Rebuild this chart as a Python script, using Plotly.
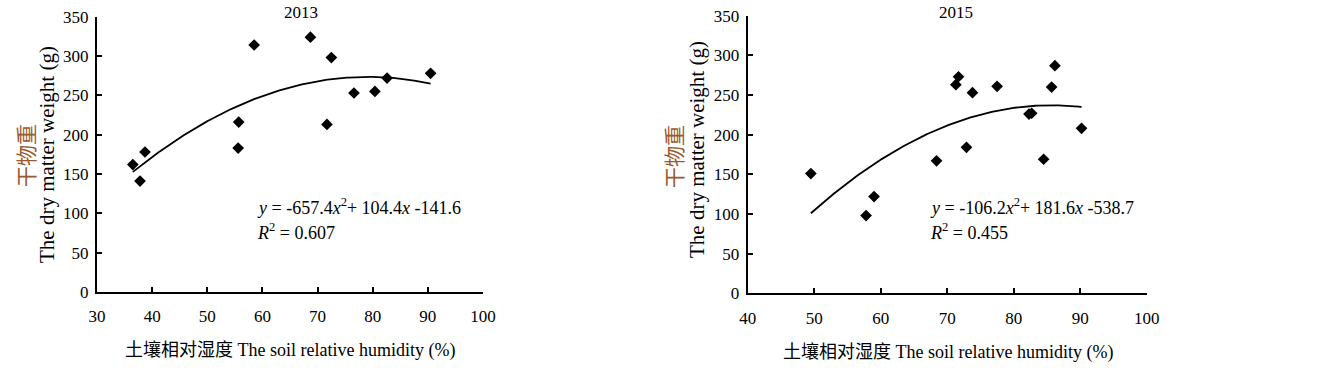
import numpy as np
import plotly.graph_objects as go

# ---- data ----
x2013 = [36.5, 37.8, 38.7, 55.7, 55.6, 58.5, 68.7, 72.5, 71.7, 76.6, 80.4, 82.6, 90.5]
y2013 = [162, 141, 178, 216, 183, 314, 324, 298, 213, 253, 255, 272, 278]

x2015 = [49.5, 57.8, 59.0, 68.4, 71.3, 71.7, 72.9, 73.8, 77.5, 82.3, 82.7, 84.5, 85.7, 86.2, 90.2]
y2015 = [151, 98, 122, 167, 263, 273, 184, 253, 261, 226, 227, 169, 260, 287, 208]

xticks2013 = [30, 40, 50, 60, 70, 80, 90, 100]
xticks2015 = [40, 50, 60, 70, 80, 90, 100]
yticks = [0, 50, 100, 150, 200, 250, 300, 350]

titles = ["2013", "2015"]
eq_text = ["<i>y</i> = -657.4<i>x</i><sup>2</sup>+ 104.4<i>x</i> -141.6",
           "<i>y</i> = -106.2<i>x</i><sup>2</sup>+ 181.6<i>x</i> -538.7"]
r2_text = ["<i>R</i><sup>2</sup> = 0.607", "<i>R</i><sup>2</sup> = 0.455"]
xtitle = "土壤相对湿度 The soil relative humidity (%)"
ytitle_cn = "干物重"
ytitle_en = "The dry matter weight (g)"

W, H = 1324, 384
FONT = "Liberation Serif, Times New Roman, Noto Sans CJK SC, serif"

fig = go.Figure()

def fit_curve(xs, ys):
    c = np.polyfit(xs, ys, 2)
    xx = np.linspace(min(xs), max(xs), 200)
    return xx, np.polyval(c, xx)

for i, (xs, ys) in enumerate([(x2013, y2013), (x2015, y2015)]):
    xa = "x" if i == 0 else "x2"
    ya = "y" if i == 0 else "y2"
    xx, yy = fit_curve(xs, ys)
    fig.add_trace(go.Scatter(x=xx, y=yy, mode="lines", xaxis=xa, yaxis=ya,
                             line=dict(color="black", width=1.8), showlegend=False,
                             hoverinfo="skip"))
    fig.add_trace(go.Scatter(x=xs, y=ys, mode="markers", xaxis=xa, yaxis=ya,
                             marker=dict(symbol="diamond", size=9, color="black"),
                             showlegend=False))

# pixel geometry (screen pixels)
L = dict(x0=97, x1=483, y0=292, y1=16.7)
R = dict(x0=747.7, x1=1146.7, y0=293.3, y1=15.7)

def px(v):
    return v / W

def py(v):
    return 1 - v / H

axis_common = dict(showline=True, linecolor="black", linewidth=2, ticks="inside",
                   ticklen=5, tickwidth=2, tickcolor="black", showgrid=False,
                   zeroline=False, tickfont=dict(family=FONT, size=17, color="black"),
                   mirror=False, automargin=False)

fig.update_layout(
    template="none",
    width=W, height=H, margin=dict(l=0, r=0, t=0, b=0, pad=0),
    paper_bgcolor="white", plot_bgcolor="white",
    xaxis=dict(domain=[px(L["x0"]), px(L["x1"])], range=[30, 100], tickvals=xticks2013,
               anchor="y", ticklabelstandoff=8, **axis_common),
    yaxis=dict(domain=[py(L["y0"]), py(L["y1"])], range=[0, 350], tickvals=yticks,
               anchor="x", ticklabelstandoff=3, **axis_common),
    xaxis2=dict(domain=[px(R["x0"]), px(R["x1"])], range=[40, 100], tickvals=xticks2015,
                anchor="y2", ticklabelstandoff=8, **axis_common),
    yaxis2=dict(domain=[py(R["y0"]), py(R["y1"])], range=[0, 350], tickvals=yticks,
                anchor="x2", ticklabelstandoff=3, **axis_common),
)

ann = []
def A(text, x, y, size, xanchor="center", angle=0, color="black"):
    ann.append(dict(text=text, x=px(x), y=py(y), xref="paper", yref="paper",
                    xanchor=xanchor, yanchor="middle", showarrow=False, textangle=angle,
                    font=dict(family=FONT, size=size, color=color)))

# titles
A(titles[0], 301, 13, 17)
A(titles[1], 956, 13, 17)
# x titles
A(xtitle, 290, 350, 18)
A(xtitle, 948, 352, 18)
# y titles
A(ytitle_cn, 27, 156, 21, angle=-90, color="#9a5a30")
A(ytitle_en, 47, 155, 21, angle=-90)
A(ytitle_cn, 675, 156, 21, angle=-90, color="#9a5a30")
A(ytitle_en, 697, 150, 21, angle=-90)
# equations
A(eq_text[0], 255, 206, 18, xanchor="left")
A(r2_text[0], 255, 231, 18, xanchor="left")
A(eq_text[1], 928, 206, 18, xanchor="left")
A(r2_text[1], 928, 231, 18, xanchor="left")

fig.update_layout(annotations=ann)
fig.write_html("out.html", config={"displayModeBar": False},
               post_script="document.body.style.margin='0px';document.body.style.padding='0px';")
